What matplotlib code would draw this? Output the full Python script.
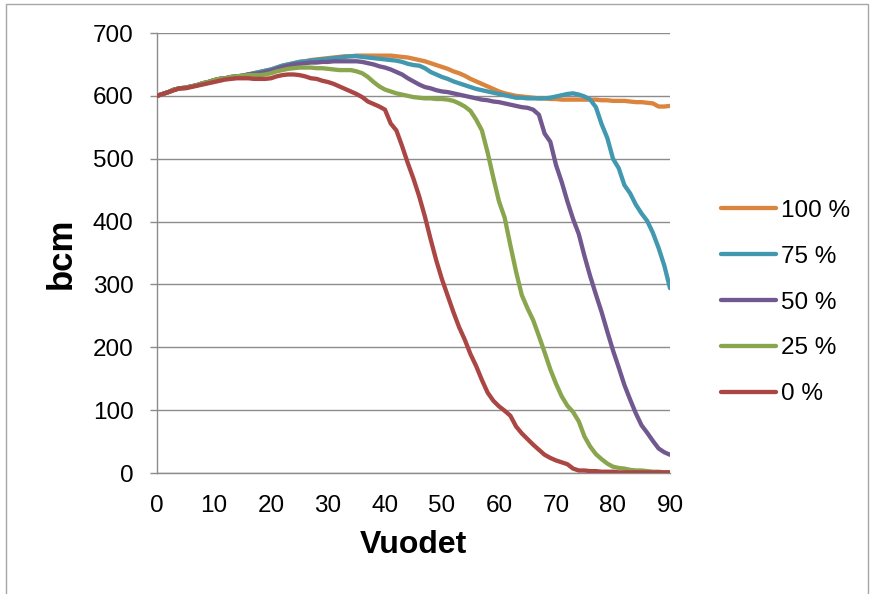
import matplotlib
matplotlib.use("Agg")
import matplotlib.pyplot as plt
from matplotlib.patches import Rectangle

plt.rcParams["font.family"] = ["Liberation Sans", "DejaVu Sans"]

years = list(range(0, 91))

# bcm per year for each share scenario
share_0 = [
    600, 603, 606, 609, 612, 612, 614, 616, 618, 620,
    622, 624, 626, 627, 628, 628, 628, 627, 627, 627,
    628, 631, 633, 634, 634, 633, 631, 628, 627, 624,
    622, 619, 615, 611, 607, 603, 598, 591, 587, 583,
    578, 556, 545, 520, 493, 468, 440, 408, 372, 338,
    308, 282, 256, 232, 212, 189, 170, 148, 128, 115,
    106, 99, 91, 74, 63, 54, 45, 37, 29, 24,
    20, 17, 14, 7, 4, 4, 3, 3, 2, 2,
    2, 1, 1, 1, 1, 1, 1, 1, 1, 1,
    1,
]
share_25 = [
    600, 603, 606, 610, 612, 613, 615, 617, 620, 622,
    625, 627, 628, 630, 631, 632, 633, 633, 633, 634,
    636, 639, 641, 643, 644, 645, 645, 645, 644, 644,
    643, 642, 641, 641, 641, 639, 636, 630, 622, 615,
    610, 607, 604, 602, 600, 598, 597, 596, 596, 595,
    595, 594, 592, 588, 583, 576, 562, 545, 510, 470,
    432, 406, 362, 320, 283, 262, 243, 218, 192, 165,
    142, 122, 107, 97, 82, 58, 42, 30, 22, 15,
    10, 8, 7, 5, 4, 4, 3, 2, 2, 1,
    1,
]
share_50 = [
    600, 603, 606, 610, 612, 613, 615, 617, 620, 622,
    625, 627, 628, 630, 631, 632, 634, 635, 636, 638,
    640, 643, 646, 648, 650, 651, 652, 653, 653, 654,
    654, 655, 655, 655, 655, 655, 654, 652, 650, 647,
    645, 642, 638, 634, 628, 623, 618, 614, 612, 609,
    607, 606, 604, 602, 600, 598, 596, 594, 593, 591,
    590, 588, 586, 584, 582, 581, 578, 570, 540, 527,
    490, 463, 432, 404, 380, 345, 313, 284, 256, 225,
    195, 168, 140, 117, 95, 76, 64, 51, 39, 33,
    29,
]
share_75 = [
    600, 603, 606, 610, 612, 613, 615, 617, 620, 622,
    625, 627, 628, 630, 631, 632, 634, 636, 638, 640,
    642, 645, 648, 650, 652, 654, 655, 656, 657, 658,
    659, 660, 661, 662, 663, 663, 662, 661, 660, 659,
    658, 657, 656, 654, 651, 649, 648, 644, 638, 634,
    630, 627, 623, 620, 617, 614, 611, 609, 607, 605,
    603, 601, 599, 597, 597, 596, 596, 596, 596, 597,
    599, 601, 603, 604, 602, 599, 594, 582, 555, 533,
    500, 485, 458, 445, 427, 413, 401, 382, 358, 330,
    294,
]
share_100 = [
    600, 603, 606, 610, 612, 613, 615, 617, 620, 622,
    625, 627, 628, 630, 631, 632, 634, 636, 638, 640,
    642, 645, 648, 650, 652, 654, 655, 657, 658, 659,
    660, 661, 662, 663, 663, 664, 664, 664, 664, 664,
    664, 664, 663, 662, 661, 659, 657, 655, 652, 649,
    646, 643, 639, 636, 632, 627, 623, 619, 615, 611,
    607, 604, 602, 600, 599, 598, 597, 596, 596, 595,
    595, 594, 594, 594, 594, 594, 594, 594, 593, 593,
    592, 592, 592, 591, 590, 590, 589, 588, 583, 583,
    584,
]

labels = ["100 %", "75 %", "50 %", "25 %", "0 %"]
series = [share_100, share_75, share_50, share_25, share_0]
colors = ["#DB843D", "#4198AF", "#71588F", "#89A54E", "#AA4643"]

y_ticks = [0, 100, 200, 300, 400, 500, 600, 700]
x_ticks = [0, 10, 20, 30, 40, 50, 60, 70, 80, 90]

W, H = 873, 594
fig = plt.figure(figsize=(W / 100, H / 100), dpi=100)
ax = fig.add_axes([157 / W, 1 - 473 / H, (670 - 157) / W, (473 - 33) / H])

for i, (vals, col, lab) in enumerate(zip(series, colors, labels)):
    # lower shares are drawn over the higher ones
    ax.plot(years, vals, color=col, lw=3.1, label=lab, zorder=3 + i,
            solid_capstyle="round", solid_joinstyle="round")

grid_col = "#8C8C8C"
ax.set_xlim(0, 90)
ax.set_ylim(0, 700)
ax.set_xticks(x_ticks)
ax.set_yticks(y_ticks)
ax.yaxis.grid(True, color=grid_col, lw=1.0)
ax.set_axisbelow(True)
for s in ("top", "right"):
    ax.spines[s].set_visible(False)
for s in ("left", "bottom"):
    ax.spines[s].set_color(grid_col)
    ax.spines[s].set_linewidth(1.0)
ax.tick_params(axis="y", length=5, width=1.0, color=grid_col, pad=12,
               labelsize=17.5)
ax.tick_params(axis="x", length=0, pad=16, labelsize=17.5)

ax.set_xlabel("Vuodet", fontsize=23, fontweight="bold", labelpad=9)
ax.set_ylabel("bcm", fontsize=25, fontweight="bold", labelpad=11)

ax.legend(loc="center left", bbox_to_anchor=(721 / W, 1 - 302.5 / H),
          bbox_transform=fig.transFigure, frameon=False, fontsize=17.5,
          handlelength=2.26, handletextpad=0.2, labelspacing=0.985,
          borderpad=0, borderaxespad=0)

# thin outer frame around the chart area
fig.patches.append(Rectangle((5.5 / W, -0.02), (868 - 5.5) / W, (594 - 4) / H + 0.02,
                             transform=fig.transFigure, fill=False,
                             edgecolor="#A6A6A6", lw=1.0))

fig.savefig("out.png", dpi=100)
